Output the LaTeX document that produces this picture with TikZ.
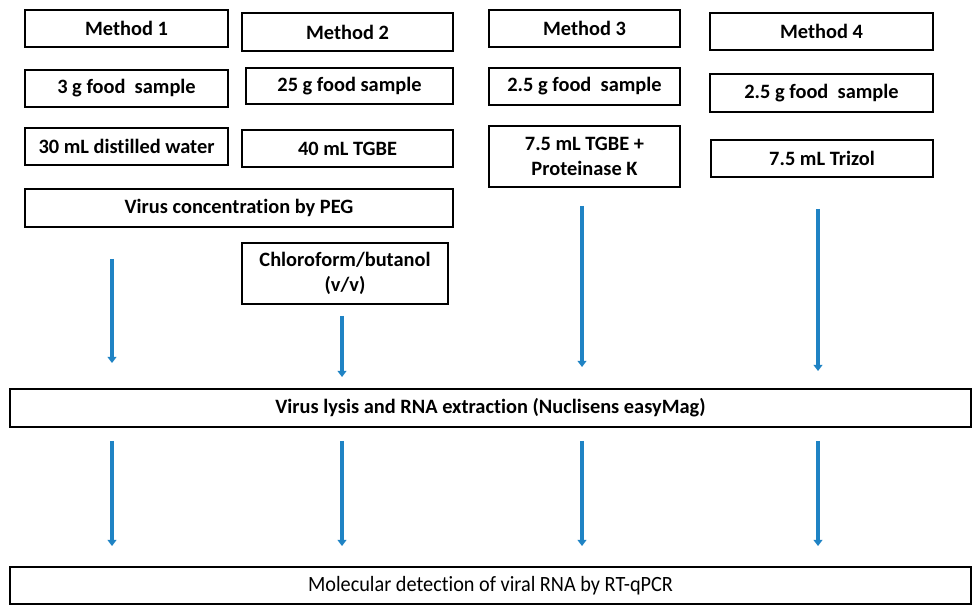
\documentclass[tikz,border=0pt]{standalone}
\usepackage{fontspec}
\setmainfont[Ligatures=NoCommon]{Carlito}
\newfontfamily\condfont[Ligatures=NoCommon, FakeStretch=0.93]{Carlito}
\usetikzlibrary{arrows.meta, positioning}
\definecolor{flowblue}{RGB}{31,131,196}

\begin{document}
\begin{tikzpicture}[
    box/.style={draw=black, line width=1.1pt, align=center, inner sep=2pt,
                font=\bfseries\fontsize{11.6}{14}\selectfont},
    flow/.style={draw=flowblue, line width=2.3pt, -{Triangle[width=5pt,length=3.5pt]}},
  ]
                \useasboundingbox (0,0) rectangle (19.6,-12.3);

                % Method 1
                \node[box, minimum width=4.06cm, minimum height=0.74cm] (m1) at (2.53,-0.57) {Method 1};
                \node[box, minimum width=4.06cm, minimum height=0.74cm] (s1) at (2.53,-1.77) {3 g food~ sample};
                \node[box, minimum width=4.06cm, minimum height=0.74cm] (b1) at (2.53,-2.93) {30 mL distilled water};

                % Method 2
                \node[box, minimum width=4.22cm, minimum height=0.76cm] (m2) at (6.95,-0.64) {Method 2};
                \node[box, minimum width=4.14cm, minimum height=0.72cm] (s2) at (6.99,-1.72) {25 g food sample};
                \node[box, minimum width=4.22cm, minimum height=0.74cm] (b2) at (6.95,-2.97) {40 mL TGBE};

                % Method 3
                \node[box, minimum width=3.82cm, minimum height=0.74cm] (m3) at (11.69,-0.57) {Method 3};
                \node[box, minimum width=3.82cm, minimum height=0.74cm] (s3) at (11.69,-1.73) {2.5 g food~ sample};
                \node[box, minimum width=3.82cm, minimum height=1.22cm] (b3) at (11.69,-3.13) {7.5 mL TGBE +\\Proteinase K};

                % Method 4
                \node[box, minimum width=4.46cm, minimum height=0.74cm] (m4) at (16.43,-0.63) {Method 4};
                \node[box, minimum width=4.46cm, minimum height=0.76cm] (s4) at (16.43,-1.86) {2.5 g food~ sample};
                \node[box, minimum width=4.44cm, minimum height=0.74cm] (b4) at (16.44,-3.17) {7.5 mL Trizol};

                % Concentration steps
                \node[box, minimum width=8.56cm, minimum height=0.76cm] (peg) at (4.78,-4.16) {Virus concentration by PEG};
                \node[box, minimum width=4.12cm, minimum height=1.22cm] (chcl) at (6.90,-5.47) {Chloroform/butanol\\(v/v)};

                % Common steps
                \node[box, minimum width=19.22cm, minimum height=0.76cm] (lysis) at (9.81,-8.16) {Virus lysis and RNA extraction (Nuclisens easyMag)};
                \node[box, font=\condfont\fontsize{12.4}{14}\selectfont, minimum width=19.22cm, minimum height=0.74cm] (detect) at (9.81,-11.71) {Molecular detection of viral RNA by RT-qPCR};

                % Arrow columns
                \coordinate (c1) at (2.24,0);
                \coordinate (c2) at (6.84,0);
                \coordinate (c3) at (11.64,0);
                \coordinate (c4) at (16.36,0);

                \draw[flow, shorten <=0.62cm, shorten >=0.50cm] (peg.south -| c1) -- (lysis.north -| c1);
                \draw[flow, shorten <=0.22cm, shorten >=0.22cm] (chcl.south -| c2) -- (lysis.north -| c2);
                \draw[flow, shorten <=0.36cm, shorten >=0.42cm] (b3.south -| c3) -- (lysis.north -| c3);
                \draw[flow, shorten <=0.62cm, shorten >=0.34cm] (b4.south -| c4) -- (lysis.north -| c4);

                \foreach \c in {c1,c2,c3,c4}
                    \draw[flow, shorten <=0.26cm, shorten >=0.40cm] (lysis.south -| \c) -- (detect.north -| \c);
\end{tikzpicture}
\end{document}
